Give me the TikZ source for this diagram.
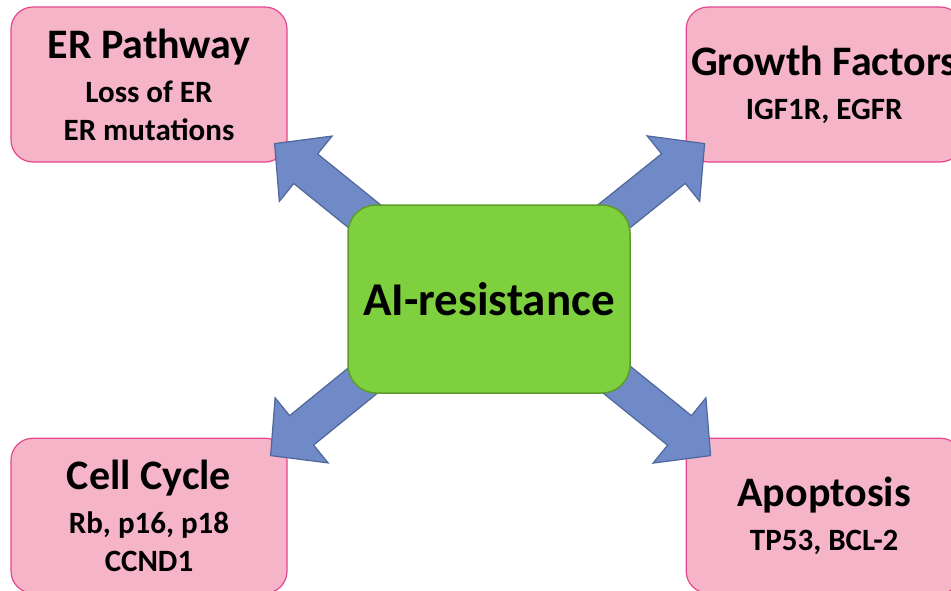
\documentclass[tikz,border=0pt]{standalone}
\usepackage{fontspec}
\setmainfont{Carlito}
\usetikzlibrary{positioning}
\usetikzlibrary{calc}
\definecolor{pinkfill}{HTML}{F5B4C7}
\definecolor{pinkline}{HTML}{E5478F}
\definecolor{greenfill}{HTML}{7ED03E}
\definecolor{greenline}{HTML}{5D9B2F}
\definecolor{bluefill}{HTML}{7089C7}
\definecolor{blueline}{HTML}{50679B}
\newcommand\headline[1]{{\fontsize{42}{44}\selectfont #1}\\[6pt]}
\newcommand\bigarrow[2]{%
  \coordinate (ab) at ($(#2)!40pt!(#1)$);
  \draw[flow] ($(#1)!19pt!90:(#2)$) -- ($(ab)!19pt!-90:(#1)$)
    -- ($(ab)!42pt!-90:(#1)$) -- (#2) -- ($(ab)!42pt!90:(#1)$)
    -- ($(ab)!19pt!90:(#1)$) -- ($(#1)!19pt!-90:(#2)$) -- cycle;
}
\tikzset{
font=\bfseries, % All text bold
cause/.style={draw=pinkline,fill=pinkfill,line width=1.2pt,rounded corners=22pt,
  minimum width=276pt,minimum height=155pt,align=center,
  font=\bfseries\fontsize{31}{38}\selectfont},
core/.style={draw=greenline,fill=greenfill,line width=1.5pt,rounded corners=28pt,
  minimum width=282pt,minimum height=188pt,
  font=\bfseries\fontsize{47}{50}\selectfont},
flow/.style={fill=bluefill,draw=blueline,line width=1.2pt,line join=miter}
}
\begin{document}
\begin{tikzpicture}[x=1pt,y=-1pt]
\useasboundingbox (0,0) rectangle (951,590);
\clip (0,0) rectangle (951,590);
\node[cause] (er) at (149,84.5) {\headline{ER Pathway}Loss of ER\\ER mutations};
\node[cause] (gf) [right=398pt of er] {\headline{Growth Factors}IGF1R, EGFR};
\node[cause] (cc) [below=275pt of er] {\headline{Cell Cycle}Rb, p16, p18\\CCND1};
\node[cause] (apo) [below=275pt of gf] {\headline{Apoptosis}TP53, BCL-2};
% arrows start under the central box
\coordinate (hub) at (489,299);
\coordinate (s1) at ($(hub)+(-22,0)$);
\coordinate (s2) at ($(hub)+(22,0)$);
\coordinate (s3) at ($(hub)+(-26,0)$);
\coordinate (s4) at ($(hub)+(28,0)$);
\coordinate (t1) at ($(er.south east)+(-13,-19)$);
\coordinate (t2) at ($(gf.south west)+(19,-19)$);
\coordinate (t3) at ($(cc.north east)+(-17,18)$);
\coordinate (t4) at ($(apo.north west)+(25,18)$);
\bigarrow{s1}{t1}
\bigarrow{s2}{t2}
\bigarrow{s3}{t3}
\bigarrow{s4}{t4}
\node[core] (ai) at (hub) {AI-resistance};
\end{tikzpicture}
\end{document}
